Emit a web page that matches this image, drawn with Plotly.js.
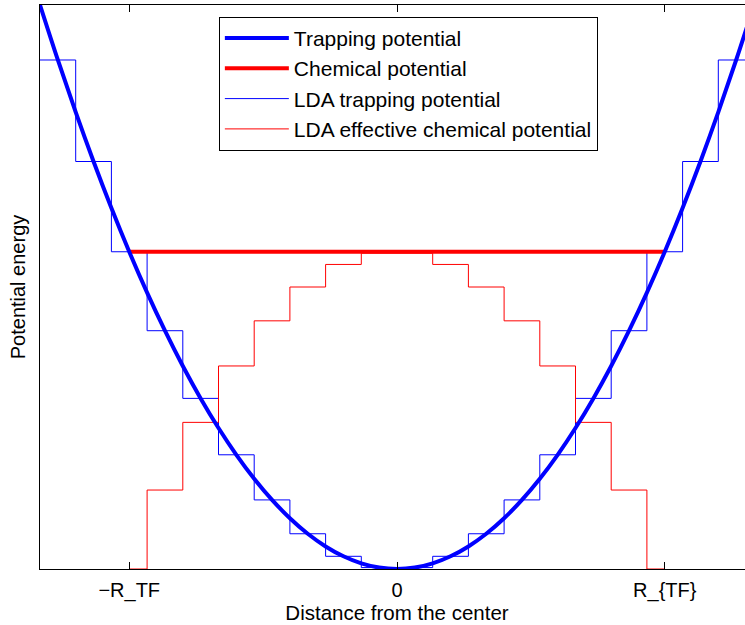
<!DOCTYPE html>
<html><head><meta charset="utf-8">
<script src="https://cdn.plot.ly/plotly-3.0.1.min.js"></script>
<style>html,body{margin:0;padding:0;overflow:hidden;background:#fff;width:745px;height:625px}</style>
</head><body><div id="chart" style="width:770px;height:625px"></div>
<script>
// Trapping potential (smooth parabola), read at half-unit spacing
const trapX = [-10,-9.5,-9,-8.5,-8,-7.5,-7,-6.5,-6,-5.5,-5,-4.5,-4,-3.5,-3,-2.5,-2,-1.5,-1,-0.5,0,0.5,1,1.5,2,2.5,3,3.5,4,4.5,5,5.5,6,6.5,7,7.5,8,8.5,9,9.5,10];
const trapV = [100,90.25,81,72.25,64,56.25,49,42.25,36,30.25,25,20.25,16,12.25,9,6.25,4,2.25,1,0.25,0,0.25,1,2.25,4,6.25,9,12.25,16,20.25,25,30.25,36,42.25,49,56.25,64,72.25,81,90.25,100];
// Chemical potential (flat line between -R_TF and R_TF)
const chemX = [-7.5, 7.5];
const chemV = [56.25, 56.25];
// LDA trapping potential: step edges and value on each step
const ldaTrapEdges = [-10,-9,-8,-7,-6,-5,-4,-3,-2,-1,0,1,2,3,4,5,6,7,8,9,10];
const ldaTrapSteps = [90.25,72.25,56.25,42.25,30.25,20.25,12.25,6.25,2.25,0.25,0.25,2.25,6.25,12.25,20.25,30.25,42.25,56.25,72.25,90.25];
// LDA effective chemical potential: step edges and values
const ldaMuEdges = [-7.5,-7,-6,-5,-4,-3,-2,-1,0,1,2,3,4,5,6,7,7.5];
const ldaMuSteps = [0,14,26,36,44,50,54,56,56,54,50,44,36,26,14,0];
// Axis tick labels
const tickPos = [-7.5, 0, 7.5];
const tickText = ['\u2212R_TF', '0', 'R_{TF}'];

const family = 'Liberation Sans, Arial, Helvetica, sans-serif';
const font = {family: family, size: 20, color: '#000'};
const legendFont = {family: family, size: 21, color: '#000'};

const traces = [
  {x: ldaTrapEdges, y: ldaTrapSteps.concat([ldaTrapSteps[ldaTrapSteps.length-1]]), mode: 'lines',
   line: {shape: 'hv', color: '#0000ff', width: 1}, name: 'LDA trapping potential', legendrank: 3},
  {x: ldaMuEdges, y: ldaMuSteps.concat([ldaMuSteps[ldaMuSteps.length-1]]), mode: 'lines',
   line: {shape: 'hv', color: '#ff0000', width: 1}, name: 'LDA effective chemical potential', legendrank: 4},
  {x: chemX, y: chemV, mode: 'lines', line: {color: '#ff0000', width: 4}, name: 'Chemical potential', legendrank: 2},
  {x: trapX, y: trapV, mode: 'lines', line: {color: '#0000ff', width: 4, shape: 'spline'}, name: 'Trapping potential', legendrank: 1}
];

const layout = {
  width: 770, height: 625,
  margin: {l: 40, r: 16, t: 5, b: 56},
  paper_bgcolor: '#fff', plot_bgcolor: '#fff',
  font: font,
  showlegend: true,
  legend: {x: 0.2505, y: 0.979, xanchor: 'left', yanchor: 'top',
           bgcolor: '#fff', bordercolor: '#000', borderwidth: 1,
           font: legendFont, itemwidth: 64, traceorder: 'normal'},
  xaxis: {range: [-10, 10], tickvals: tickPos, ticktext: tickText,
          ticks: 'inside', ticklen: 7, tickcolor: '#000', tickwidth: 1,
          showline: true, linecolor: '#000', linewidth: 1, mirror: 'ticks',
          showgrid: false, zeroline: false, tickfont: font, ticklabelstandoff: 3,
          title: {text: 'Distance from the center', font: {family: family, size: 20.5, color: '#000'}, standoff: 4}},
  yaxis: {range: [0, 100], showticklabels: false, ticks: '',
          showline: true, linecolor: '#000', linewidth: 1, mirror: true,
          showgrid: false, zeroline: false,
          title: {text: 'Potential energy', font: font, standoff: 8}}
};

Plotly.newPlot('chart', traces, layout, {displayModeBar: false, staticPlot: true});
</script>
</body></html>
